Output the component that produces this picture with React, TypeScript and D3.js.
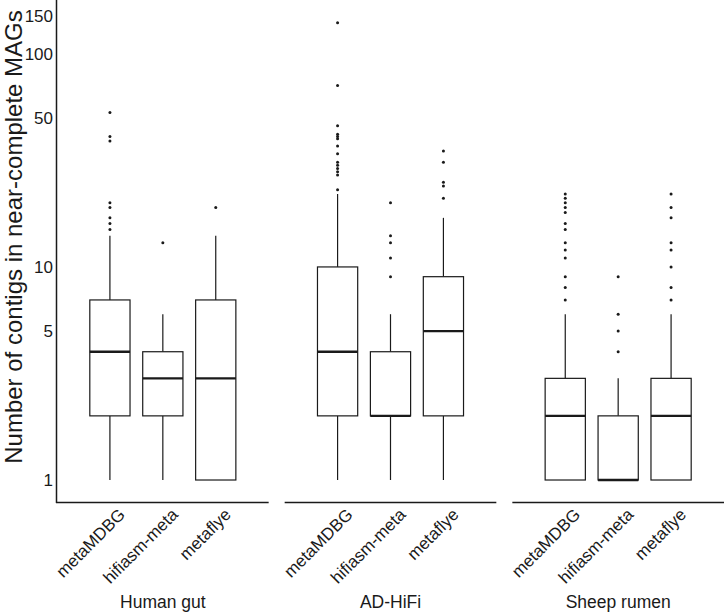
import React from "react";
import * as d3 from "d3";

const groups = ["Human gut", "AD-HiFi", "Sheep rumen"];
const methods = ["metaMDBG", "hifiasm-meta", "metaflye"];

// stats per group (rows) x method (columns)
const whiskerLow = [[1, 1, 1], [1, 1, 1], [1, 1, 1]];
const q1 = [[2, 2, 1], [2, 2, 2], [1, 1, 1]];
const median = [[4, 3, 3], [4, 2, 5], [2, 1, 2]];
const q3 = [[7, 4, 7], [10, 4, 9], [3, 2, 3]];
const whiskerHigh = [[14, 6, 14], [22, 6, 17], [6, 3, 6]];
const outliers = [
  [[53, 41, 39, 20, 19, 17, 16, 15], [13], [19]],
  [[140, 71, 46, 42, 41, 40, 37, 34, 31, 30, 29, 28, 27, 23], [20, 14, 13, 11, 9], [35, 31, 25, 24, 21]],
  [[22, 21, 20, 19, 18, 16, 15, 13, 12, 11, 9, 8, 7], [9, 6, 5, 4], [22, 19, 17, 13, 12, 10, 8, 7]],
];
const yTicks = [1, 5, 10, 50, 100, 150];
const yTitle = "Number of contigs in near-complete MAGs";

const W = 728;
const H = 613;
const FONT = "'Liberation Sans', Arial, Helvetica, sans-serif";
const INK = "#1a1a1a";

export default function App() {
  const y = d3.scaleLog().domain([0.78, 179]).range([503, 0]);
  const panel = d3.scaleBand<string>().domain(groups).range([57, 724]).paddingInner(0.0703);
  const x = d3.scalePoint<string>().domain(methods).range([0, panel.bandwidth()]).padding(1);
  const boxW = x.step() * 0.76;

  return (
    <svg width={W} height={H} style={{ position: "absolute", left: 0, top: 0, background: "#fff" }}>
      <rect x={0} y={0} width={W} height={H} fill="#fff" />
      {/* y axis */}
      <line x1={56.5} x2={56.5} y1={0} y2={503} stroke={INK} strokeWidth={1.5} />
      {yTicks.map((t) => (
        <text key={t} x={53} y={y(t)} dy="0.36em" textAnchor="end" fontFamily={FONT} fontSize={17} fill={INK}>
          {t}
        </text>
      ))}
      <text
        transform={`translate(22,${237}) rotate(-90)`}
        textAnchor="middle"
        fontFamily={FONT}
        fontSize={24}
        fill={INK}
      >
        {yTitle}
      </text>
      {groups.map((g, gi) => {
        const px = panel(g)!;
        return (
          <g key={g}>
            <line x1={px - (gi === 0 ? 1 : 0)} x2={px + panel.bandwidth()} y1={502.5} y2={502.5} stroke={INK} strokeWidth={1.5} />
            {methods.map((m, mi) => {
              const cx = px + x(m)!;
              return (
                <g key={m}>
                  <line x1={cx} x2={cx} y1={y(whiskerHigh[gi][mi])} y2={y(q3[gi][mi])} stroke={INK} strokeWidth={1.2} />
                  <line x1={cx} x2={cx} y1={y(q1[gi][mi])} y2={y(whiskerLow[gi][mi])} stroke={INK} strokeWidth={1.2} />
                  <rect
                    x={cx - boxW / 2}
                    y={y(q3[gi][mi])}
                    width={boxW}
                    height={y(q1[gi][mi]) - y(q3[gi][mi])}
                    fill="#fff"
                    stroke={INK}
                    strokeWidth={1.2}
                  />
                  <line x1={cx - boxW / 2} x2={cx + boxW / 2} y1={y(median[gi][mi])} y2={y(median[gi][mi])} stroke={INK} strokeWidth={2.4} />
                  {outliers[gi][mi].map((v, k) => (
                    <circle key={k} cx={cx} cy={y(v)} r={1.5} fill={INK} />
                  ))}
                  <text
                    transform={`translate(${cx + 7.5},${507}) rotate(-45)`}
                    textAnchor="end"
                    dy="0.72em"
                    fontFamily={FONT}
                    fontSize={17}
                    fill={INK}
                  >
                    {m}
                  </text>
                </g>
              );
            })}
            <text x={px + panel.bandwidth() / 2} y={608} textAnchor="middle" fontFamily={FONT} fontSize={17.5} fill={INK}>
              {g}
            </text>
          </g>
        );
      })}
    </svg>
  );
}
